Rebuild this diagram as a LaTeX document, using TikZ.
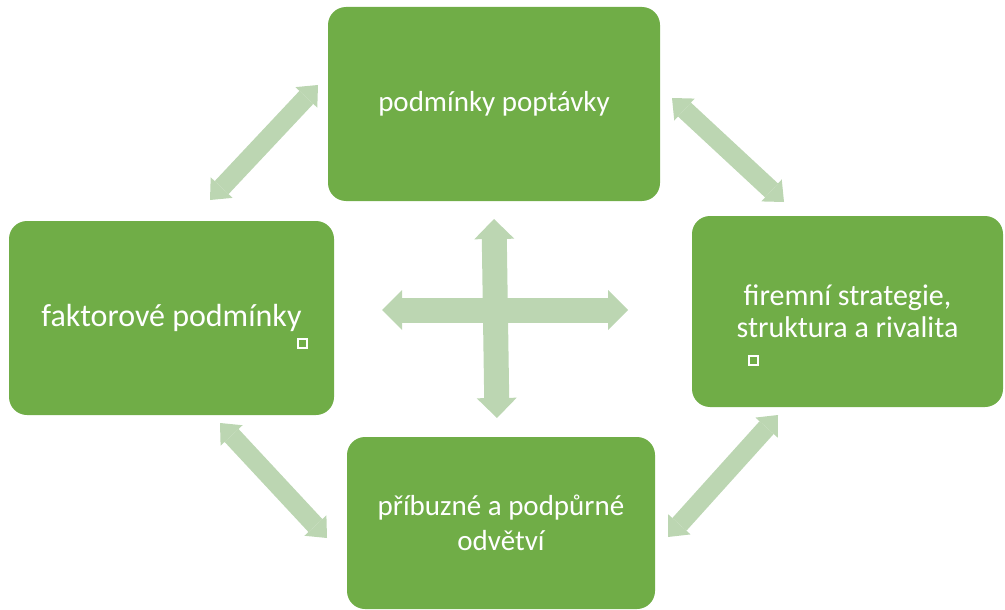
\documentclass[tikz,border=0pt]{standalone}
\usepackage{fontspec}
\setmainfont{Carlito}
\usetikzlibrary{arrows.meta}
\definecolor{boxgreen}{HTML}{70AD47}
\definecolor{linkgreen}{HTML}{BCD6B2}

\begin{document}
\begin{tikzpicture}
        [
            x = 1pt, y = -1pt,
            box/.style = {fill = boxgreen, rounded corners = 18pt, text = white, align = center,
                          font = \fontsize{29}{34}\selectfont, inner sep = 0pt},
            link/.style = {draw = linkgreen, line width = 19pt,
                           >={Triangle[width = 30pt, length = 17pt, line width = 0pt]}, <->},
            bigLink/.style = {draw = linkgreen, line width = 25pt,
                           >={Triangle[width = 40pt, length = 20pt, line width = 0pt]}, <->},
            anchorbox/.style = {draw = white, line width = 2pt, minimum size = 9pt, inner sep = 0pt}
        ]
        \useasboundingbox (0,0) rectangle (1005,610);

        % the four boxes
        \node [box, minimum width = 332pt, minimum height = 194pt] (demand) at (494,104) {podmínky poptávky};
        \node [box, minimum width = 325pt, minimum height = 194pt, font = \fontsize{32}{38}\selectfont] (factor) at (171.5,318) {faktorové podmínky};
        \node [box, minimum width = 311pt, minimum height = 191pt, font = \fontsize{30}{32}\selectfont] (strategy) at (847.5,311.5) {firemní strategie,\\struktura a rivalita};
        \node [box, minimum width = 308pt, minimum height = 172pt, font = \fontsize{29}{35}\selectfont] (related) at (501,523) {příbuzné a podpůrné\\odvětví};

        \node [anchorbox] (factormark) at (302,343) {};
        \node [anchorbox] (strategymark) at (753,360.5) {};

        % ends of the links
        \coordinate (fd-a) at (210,200);
        \coordinate (fd-b) at (318,85);
        \coordinate (ds-a) at (672,98);
        \coordinate (ds-b) at (784,202);
        \coordinate (fr-a) at (220,423);
        \coordinate (fr-b) at (327,538);
        \coordinate (rs-a) at (668,537);
        \coordinate (rs-b) at (778,415);
        \coordinate (cross-w) at (382,310);
        \coordinate (cross-e) at (628,310);
        \coordinate (cross-n) at (494,219);
        \coordinate (cross-s) at (497,418);

        \draw [link] (fd-a) -- (fd-b);
        \draw [link] (ds-a) -- (ds-b);
        \draw [link] (fr-a) -- (fr-b);
        \draw [link] (rs-a) -- (rs-b);
        \draw [bigLink] (cross-w) -- (cross-e);
        \draw [bigLink] (cross-n) -- (cross-s);
    \end{tikzpicture}
\end{document}
